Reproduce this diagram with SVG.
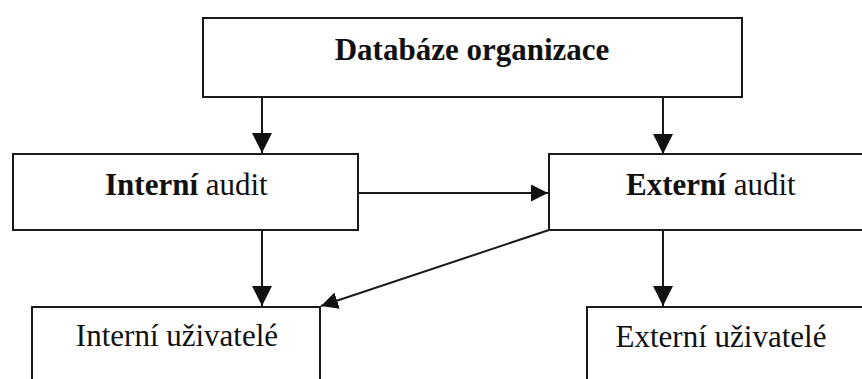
<svg xmlns="http://www.w3.org/2000/svg" width="862" height="379" viewBox="0 0 862 379">
  <style>
    .box { fill: #ffffff; stroke: #1a1a1a; stroke-width: 2; }
    .lbl { font-family: "Liberation Serif", "Times New Roman", serif; font-size: 31px; fill: #111111; }
    .b { font-weight: bold; }
    .con { fill: none; stroke: #1a1a1a; stroke-width: 2; }
  </style>
  <defs>
    <marker id="arrow" markerUnits="userSpaceOnUse" viewBox="0 0 20 20" refX="20" refY="10" markerWidth="20" markerHeight="20" orient="auto">
      <path d="M0,0 L20,10 L0,20 Z" fill="#111111"/>
    </marker>
    <marker id="arrowSmall" markerUnits="userSpaceOnUse" viewBox="0 0 20 20" refX="20" refY="10" markerWidth="17" markerHeight="17" orient="auto">
      <path d="M0,0 L20,10 L0,20 Z" fill="#111111"/>
    </marker>
  </defs>
  <rect x="0" y="0" width="862" height="379" fill="#ffffff"/>

  <g id="connectors">
    <line class="con" x1="262" y1="97" x2="262" y2="153" marker-end="url(#arrow)"/>
    <line class="con" x1="663" y1="97" x2="663" y2="154" marker-end="url(#arrow)"/>
    <line class="con" x1="358" y1="193" x2="548" y2="193" marker-end="url(#arrowSmall)"/>
    <line class="con" x1="262" y1="230" x2="262" y2="306" marker-end="url(#arrow)"/>
    <line class="con" x1="663" y1="230" x2="663" y2="306" marker-end="url(#arrow)"/>
    <line class="con" x1="549" y1="230" x2="321" y2="306" stroke-width="1.6" marker-end="url(#arrowSmall)"/>
  </g>

  <g id="databaze">
    <rect class="box" x="203" y="18" width="539" height="79"/>
    <text class="lbl b" x="472" y="60" text-anchor="middle">Databáze organizace</text>
  </g>

  <g id="interni-audit">
    <rect class="box" x="13" y="154" width="345" height="76"/>
    <text class="lbl" x="105" y="195"><tspan class="b">Interní</tspan> audit</text>
  </g>

  <g id="externi-audit">
    <rect class="box" x="549" y="154" width="330" height="76"/>
    <text class="lbl" x="626" y="195"><tspan class="b">Externí</tspan> audit</text>
  </g>

  <g id="interni-uzivatele">
    <rect class="box" x="32" y="307" width="288" height="100"/>
    <text class="lbl" x="177" y="346" text-anchor="middle">Interní uživatelé</text>
  </g>

  <g id="externi-uzivatele">
    <rect class="box" x="587" y="307" width="290" height="100"/>
    <text class="lbl" x="721" y="347" text-anchor="middle">Externí uživatelé</text>
  </g>
</svg>
